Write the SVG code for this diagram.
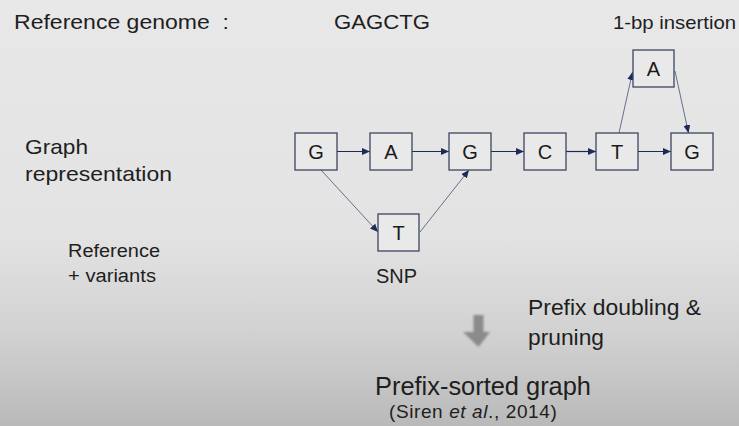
<svg xmlns="http://www.w3.org/2000/svg" width="739" height="426" viewBox="0 0 739 426">
<defs>
<linearGradient id="bg" x1="0" y1="0" x2="0" y2="1">
<stop offset="0" stop-color="#e8e8e8"/>
<stop offset="0.55" stop-color="#e3e3e3"/>
<stop offset="0.8" stop-color="#d0d0d0"/>
<stop offset="1" stop-color="#b9b9b9"/>
</linearGradient>
<marker id="ah" viewBox="0 0 8 7" refX="8" refY="3.5" markerWidth="8" markerHeight="7" markerUnits="userSpaceOnUse" orient="auto">
<path d="M0,0 L8,3.5 L0,7 z" fill="#1c2a58"/>
</marker>
<filter id="soft" x="-20%" y="-20%" width="140%" height="140%"><feGaussianBlur stdDeviation="0.8"/></filter>
</defs>
<style>
.t{font-family:"Liberation Sans",Arial,sans-serif;fill:#1e1e1e}
.box{fill:#e9e9e9;stroke:#3d4660;stroke-width:1.3}
.bl{font-family:"Liberation Sans",Arial,sans-serif;font-size:20px;fill:#1a1a1a;text-anchor:middle}
.e{fill:none;stroke:#1c2a58;stroke-width:1.2;marker-end:url(#ah)}
.d{fill:none;stroke:#66708e;stroke-width:1;marker-end:url(#ah)}
</style>
<rect x="0" y="0" width="739" height="426" fill="url(#bg)"/>

<g id="labels">
<text class="t" x="14" y="28.5" font-size="21" xml:space="preserve" textLength="215" lengthAdjust="spacingAndGlyphs">Reference genome  :</text>
<text class="t" x="334" y="28.5" font-size="21" textLength="96" lengthAdjust="spacingAndGlyphs">GAGCTG</text>
<text class="t" x="613" y="28.5" font-size="18.5" textLength="123" lengthAdjust="spacingAndGlyphs">1-bp insertion</text>
<text class="t" x="25" y="153.5" font-size="21" textLength="63" lengthAdjust="spacingAndGlyphs">Graph</text>
<text class="t" x="25" y="180.5" font-size="21" textLength="147" lengthAdjust="spacingAndGlyphs">representation</text>
<text class="t" x="68" y="256.5" font-size="18" textLength="92" lengthAdjust="spacingAndGlyphs">Reference</text>
<text class="t" x="68" y="281.5" font-size="18" textLength="88" lengthAdjust="spacingAndGlyphs">+ variants</text>
<text class="t" x="376" y="283" font-size="19.5" textLength="41" lengthAdjust="spacingAndGlyphs">SNP</text>
<text class="t" x="528" y="315" font-size="22" textLength="173" lengthAdjust="spacingAndGlyphs">Prefix doubling &amp;</text>
<text class="t" x="528" y="345" font-size="22" textLength="76" lengthAdjust="spacingAndGlyphs">pruning</text>
<text class="t" x="375" y="395" font-size="25" textLength="216" lengthAdjust="spacingAndGlyphs">Prefix-sorted graph</text>
<text class="t" x="389" y="418" font-size="19" letter-spacing="0.6">(Siren <tspan font-style="italic">et al</tspan>., 2014)</text>
</g>

<g id="bigarrow" filter="url(#soft)">
<path d="M473.5,315 L483.5,315 L483.5,332 L490,332 L478.5,347 L463,332 L473.5,332 z" fill="#8b8b8b"/>
</g>

<g id="connectors">
<line class="e" x1="337" y1="151.5" x2="370" y2="151.5"/>
<line class="e" x1="412" y1="151.5" x2="449" y2="151.5"/>
<line class="e" x1="491" y1="151.5" x2="524" y2="151.5"/>
<line class="e" x1="566" y1="151.5" x2="596" y2="151.5"/>
<line class="e" x1="638" y1="151.5" x2="671" y2="151.5"/>
<line class="d" x1="619" y1="133" x2="632.5" y2="72"/>
<line class="d" x1="675" y1="71" x2="688.5" y2="133"/>
<line class="d" x1="321" y1="170" x2="378" y2="232"/>
<line class="d" x1="420" y1="232" x2="469" y2="170"/>
</g>

<g id="n-G1"><rect class="box" x="295" y="133" width="42" height="37"/><text class="bl" x="316" y="158.8">G</text></g>
<g id="n-A1"><rect class="box" x="370" y="133" width="42" height="37"/><text class="bl" x="391" y="158.8">A</text></g>
<g id="n-G2"><rect class="box" x="449" y="133" width="42" height="37"/><text class="bl" x="470" y="158.8">G</text></g>
<g id="n-C"><rect class="box" x="524" y="133" width="42" height="37"/><text class="bl" x="545" y="158.8">C</text></g>
<g id="n-T1"><rect class="box" x="596" y="133" width="42" height="37"/><text class="bl" x="617" y="158.8">T</text></g>
<g id="n-G3"><rect class="box" x="671" y="133" width="42" height="37"/><text class="bl" x="692" y="158.8">G</text></g>
<g id="n-Ains"><rect class="box" x="633" y="50" width="41" height="37"/><text class="bl" x="653.5" y="75.8">A</text></g>
<g id="n-Tsnp"><rect class="box" x="378" y="214" width="41" height="37"/><text class="bl" x="398.5" y="239.8">T</text></g>
</svg>
